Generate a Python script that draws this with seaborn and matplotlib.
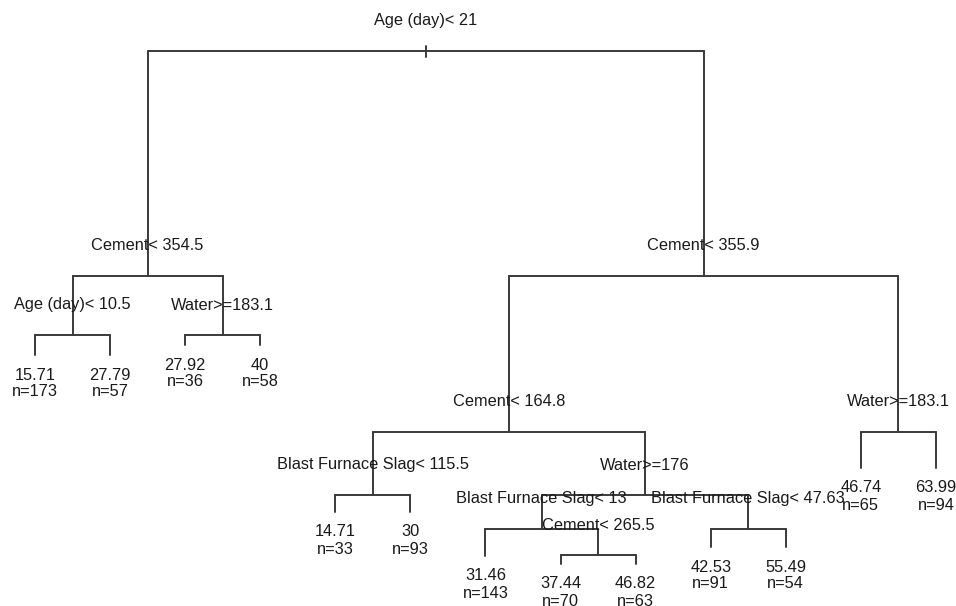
import matplotlib
matplotlib.use("Agg")
import matplotlib.pyplot as plt
import seaborn as sns
import pandas as pd
import numpy as np

# ---- tree data (rpart-style node numbering) ----
node_ids = [1, 2, 4, 8, 9, 5, 10, 11, 3, 6, 12, 24, 25, 13, 26, 52, 53, 106, 107,
            27, 54, 55, 7, 14, 15]
split_labels = {
    1: "Age (day)< 21",
    2: "Cement< 354.5",
    4: "Age (day)< 10.5",
    5: "Water>=183.1",
    3: "Cement< 355.9",
    6: "Cement< 164.8",
    12: "Blast Furnace Slag< 115.5",
    13: "Water>=176",
    26: "Blast Furnace Slag< 13",
    53: "Cement< 265.5",
    27: "Blast Furnace Slag< 47.63",
    7: "Water>=183.1",
}
leaf_values = {8: "15.71", 9: "27.79", 10: "27.92", 11: "40", 24: "14.71", 25: "30",
               52: "31.46", 106: "37.44", 107: "46.82", 54: "42.53", 55: "55.49",
               14: "46.74", 15: "63.99"}
leaf_n = {8: 173, 9: 57, 10: 36, 11: 58, 24: 33, 25: 93, 52: 143, 106: 70, 107: 63,
          54: 91, 55: 54, 14: 65, 15: 94}
# vertical position of each node (plot units from top)
node_depth = {1: 51, 2: 276, 4: 335, 8: 355, 9: 355, 5: 335, 10: 345, 11: 345,
              3: 276, 6: 432, 12: 495, 24: 512, 25: 512, 13: 495, 26: 529, 52: 556,
              53: 555, 106: 564, 107: 564, 27: 529, 54: 547, 55: 547, 7: 432,
              14: 468, 15: 468}

# ---- layout: leaves evenly spaced, internal nodes at mean of children ----
leaves = [n for n in node_ids if n in leaf_values]
leaf_pos = {n: i for i, n in enumerate(leaves)}
X0, DX = 35.0, 75.08


def xpos(n):
    if n in leaf_pos:
        return X0 + DX * leaf_pos[n]
    return (xpos(2 * n) + xpos(2 * n + 1)) / 2


xs = {n: xpos(n) for n in node_ids}

rows = []
seg = 0
for n in node_ids:
    if n in split_labels:
        l, r = 2 * n, 2 * n + 1
        yp = node_depth[n]
        # horizontal bar
        rows += [(seg, xs[l], yp), (seg, xs[r], yp)]
        seg += 1
        for c in (l, r):
            rows += [(seg, xs[c], yp), (seg, xs[c], node_depth[c])]
            seg += 1
# root tick
rows += [(seg, xs[1], node_depth[1] - 5), (seg, xs[1], node_depth[1] + 6)]
df = pd.DataFrame(rows, columns=["seg", "x", "y"])

sns.set_theme(style="white")
plt.rcParams["font.family"] = ["Liberation Sans", "DejaVu Sans"]

fig = plt.figure(figsize=(9.56, 6.06), dpi=100)
ax = fig.add_axes([0, 0, 1, 1])
sns.lineplot(data=df, x="x", y="y", units="seg", estimator=None, sort=False,
             color="#3a3a3a", linewidth=1.4, ax=ax, legend=False)

fs = 11.8
tc = "#1a1a1a"
for n, lab in split_labels.items():
    ax.text(xs[n], node_depth[n] - 30, lab, ha="center", va="center",
            fontsize=fs, color=tc)
for n in leaves:
    ax.text(xs[n], node_depth[n] + 20, leaf_values[n], ha="center", va="center",
            fontsize=fs, color=tc)
    ax.text(xs[n], node_depth[n] + 37, f"n={leaf_n[n]}", ha="center", va="center",
            fontsize=fs, color=tc)

ax.set_xlim(0, 956)
ax.set_ylim(606, 0)
ax.set_axis_off()
fig.savefig("out.png", dpi=100)
